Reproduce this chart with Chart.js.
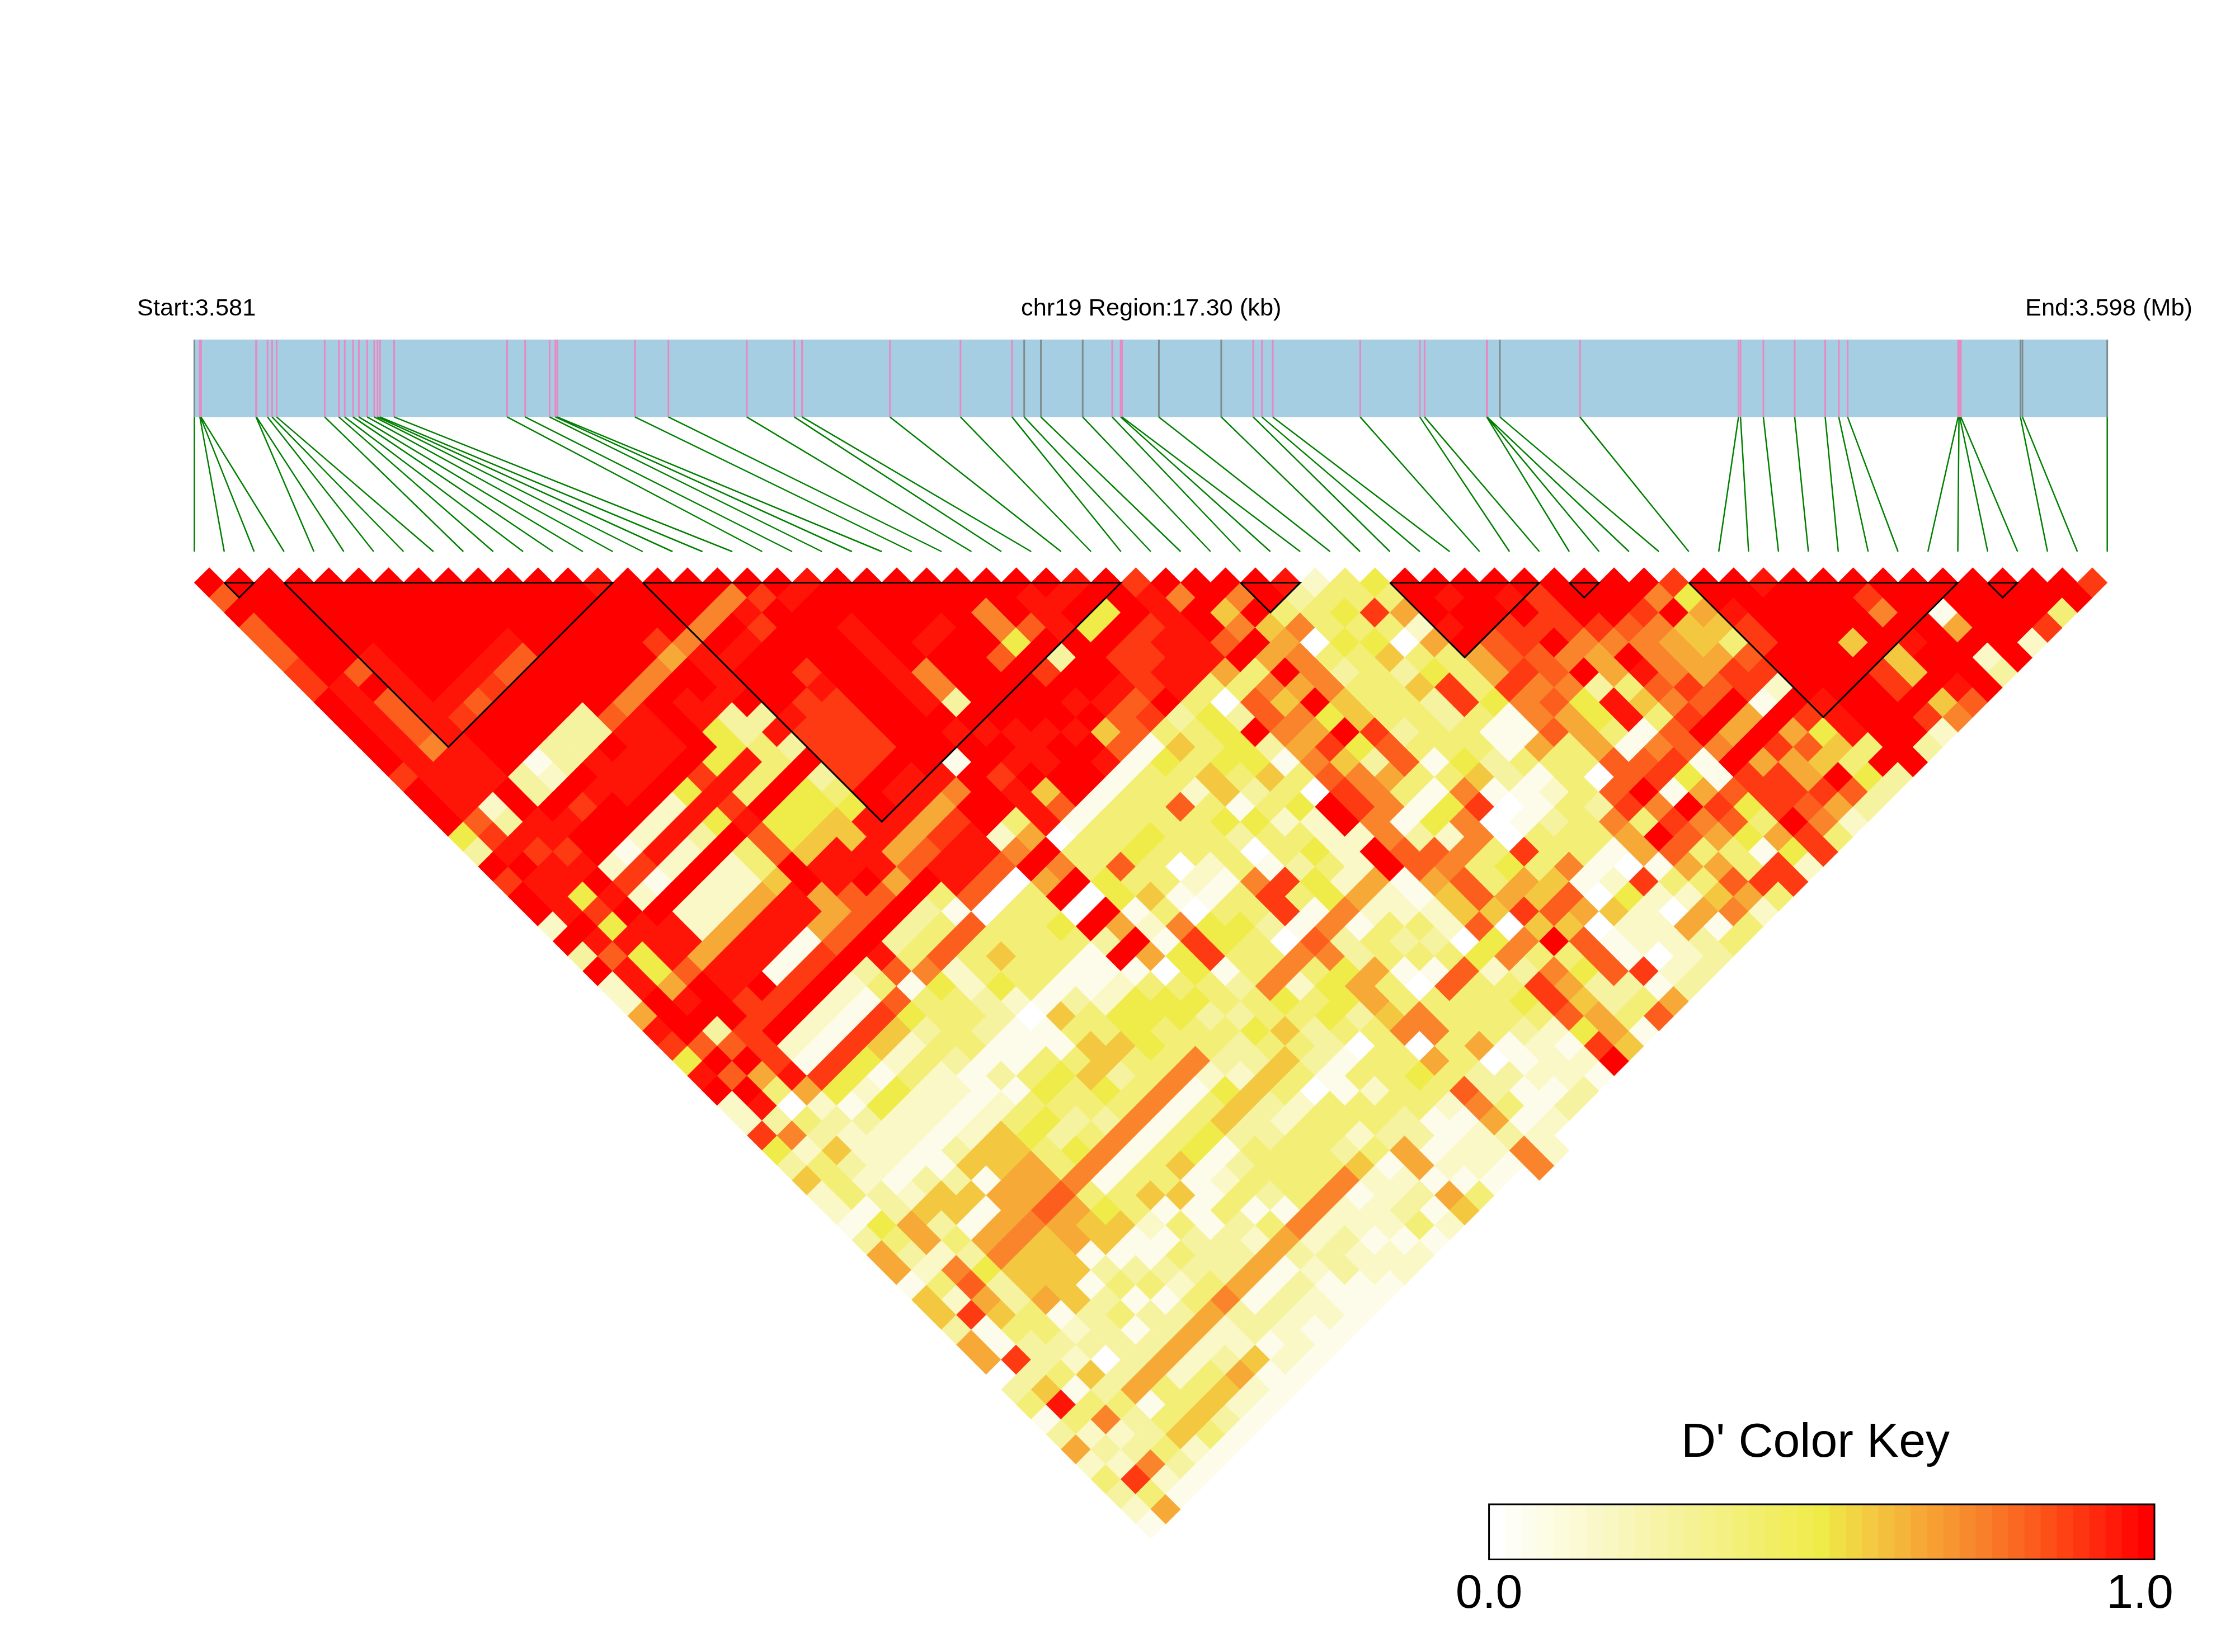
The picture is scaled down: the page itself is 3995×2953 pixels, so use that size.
<!DOCTYPE html>
<html lang="en">

<head>
    <meta charset="UTF-8">
    <title>LD heatmap chr19</title>
    <script src="https://cdn.jsdelivr.net/npm/chart.js@4/dist/chart.umd.min.js"></script>
    <style>
        html, body { margin: 0; padding: 0; background: #fff; }
        canvas { position: absolute; }
    </style>
</head>

<body>
    <canvas id="ldChart" width="3995" height="2953" style="left:0;top:0"></canvas>
    <canvas id="keyChart" width="1400" height="330" style="left:2550px;top:2600px"></canvas>

    <script>
        // SNP positions in kb from region start
        const snpPosKb = [0, .05, .055, .06, .558, .562, .662, .703, .744, 1.179, 1.307, 1.36, 1.435, 1.488, 1.563, 1.627,
            1.656, 1.679, 1.807, 2.829, 2.992, 3.213, 3.265, 3.282, 3.985, 4.287, 4.996, 5.426, 5.496, 6.291, 6.929, 7.395,
            7.505, 7.656, 8.034, 8.301, 8.377, 8.39, 8.723, 9.287, 9.576, 9.655, 9.753, 10.544, 11.083, 11.126, 11.688,
            11.69, 11.692, 11.807, 12.531, 13.965, 13.983, 14.19, 14.473, 14.749, 14.872, 14.952, 15.951, 15.959, 15.966,
            15.976, 16.515, 16.533, 17.3];
        const greySnps = [0, 32, 33, 34, 38, 39, 49, 62, 63, 64];
        const regionKb = 17.3;

        // haplotype blocks, first and last SNP
        const blockStart = [1, 3, 15, 35, 40, 46, 50, 60];
        const blockEnd = [2, 14, 31, 37, 45, 47, 59, 61];

        // D' by SNP: one string per SNP, one letter per following SNP
        const dPrimeLevels = { w: 0, v: .06, p: .16, q: .27, l: .38, y: .5, g: .58, h: .65, o: .74, n: .82, m: .89, r: .96, R: 1 };
        const dPrimeRows = [
            "RnRnnnmmRRRRRmRRRyqRmRRpRqRpphrmyrRppmyqgppvqhhvggqhhwqlvqhplqpv",
            "RRRRRRRrrrrrrrrrnmrRrrrRrnrrRRRnRnRrqoplllvylqplpmvvmqgrlpqpmlh",
            "RRRRRRnRnnnorrrpqrmrrymyryyhrRqnRhlwlqgqpqqhhponhglqqlvlopqopv",
            "RRRRRrrrrrrrrrRRrrmrRrRrrrnRRRmmmrhpqpppvpgqlqyqqllqpgqlqqlqv",
            "RRRRRRRRrmRRRqqRrRRpmpRrrhrrmmRpvmyvqppvqggvhogghvpqwqhvlgpv",
            "RRRRRRRrnRRRvpRmRRvmvRpphrrRmRpvmypyppvvqgvhoggggqqqqhllglv",
            "RRRRRRrmRRRqqRrRRprpRpphrrvmRpvmyvyppvqgvhhogggvqlvqhplgqv",
            "RRRRRrnRRRqqrrrRprpRpphrrvmRpvmgplppvpgghhnhhvqlvqqhplgpv",
            "RRRRrnRRRqqRrrRprqRpphrrvmRpvmgplppvpgghhnhggvqlvqhpqhpv",
            "RRRRRRRRRnrrrRyryRllgrrhnRqlnyqlqvvplyllolygvvqplhppgvv",
            "RRRRRRRRorrrRmrmrnnRRhhnRrnvllllvqvlyqyovllpvlqloqqvpv",
            "RRRRRRRoRRRRyrlRyygrrnnRqloyllqvvlylqlovlgvlqqqhvqppv",
            "RRRRRRoRrryyrlRyygrrRnRqlnppqqvvlyllqovllgvvqqhvqpvv",
            "rRRRmhRRrqqllRyyggrrhRqlnllypwvvlgylovlgvvlqphvqppv",
            "RRRRorrrRqrqRqlyrrhnRlvnlgllvglggqlovlyvplvlhqpvvv",
            "RRRoRrRRRrmmmmRRrhnrrnwllllvqllgllovlyvqlqvopqqvv",
            "RRoRrRRRmmmmmRrrhmrrnwllllvvpyyylovlgqllllopqppv",
            "RormRRmrmmmmRrrhmrrnwllylvvpyyllopygqqllloppvpp",
            "RmRRRRRRRRRRRroRRpoRhRwRqRvlyyllqpgqplllovppvp",
            "RrRRRRRRRRRRvRRRlhRoRwRhRhwlyqlqqglpllqgppqlv",
            "rRRrrrrrrRrRRmrrrwllyyvpvyyllqylglwllplvpqvp",
            "RRRRRRooqRrRrRgnvllnlglommvqllglqvvllqhhvhg",
            "RRRRrRRRRRrrrRRvllyllvwyylloylqqvlplqqvpvl",
            "RRRrRRRRRRrRRRvllylwpvlylloplylwllllvvppv",
            "RRRRRnRRRRrRrvlllllpvllqwolyyqlllylpvppv",
            "RRooyRmRrRgnvllnllllommvnoyhhgowhlnohqoo",
            "RRRnRqRRrnnvylplyqwvmlvoqqhlloollqqlvpp",
            "RrrrRRRrnmlglggvyllqyyovllvwlllhwqvvp",
            "RrRyRmmmRqllylqlplylphplqlvnlllvvpvq",
            "rRyRmmrrlyyyyglypppphpplqlnlllqpppq",
            "RRRmrrrlwqRqvlwRRpRRvvppwyplylpvpv",
            "mrrrrrhlnnohonmmoonnhggnyoqmmnymR",
            "RoRRnRlogohmgooovqnonngwolohghhg",
            "RRgoRhRhRyRyqhlvypollhmgRlyqqlv",
            "RoRghoooggmnnlvyoolyhgngnnnqln",
            "RRlowlqlllqlvlomwwmlgnhwvvmvh",
            "rqllylllllllygvwvllovwgppwpq",
            "plylygqgqqllqqvvqllvpyppppq",
            "llmlwlymmlvvlvplllvwmpwhqq",
            "ylhphlllyvvhlllqohhvlphvl",
            "RRRrRhhmoonllwnmlRnhlgol",
            "RrRRnnmonhhhnnRomnlhnhp",
            "RRRmmnnoyylvnmvRohllml",
            "RrRmRoRqrrvomyhmnyvmm",
            "Rmmmohhlglnnvvnylhyp",
            "RRRmoRrnomRoRmmmRmm",
            "RRRnooomnRhRhmmnol",
            "RRmohhhnRhRmhhmhp",
            "RoRgghmmvRhngRnq",
            "myhglnmpRmyglyq",
            "RRrmmRRRrrrlRq",
            "RRRRRRRRRRRRR",
            "rRRRRRRRRRRq",
            "RRRRgRmmRmp",
            "RRRRRggRgo",
            "RmoRrRRrn",
            "RRRRRRRR",
            "RRvhRpq",
            "RRRRRR",
            "RRRRp",
            "RRRm",
            "RRl",
            "RR",
            "m"
        ];

        const keySteps = 41;
        const keyTicks = [0, 1];

        // colour key stops
        const rampStops = [0, .25, .5, .58, .66, .75, .85, .92, 1];
        const rampColors = [[255, 255, 255], [247, 244, 168], [239, 235, 72], [243, 200, 64], [246, 165, 53], [249, 128, 43], [253, 80, 24], [255, 42, 14], [255, 0, 0]];

        function dColor(d) {
            let n = 1;
            while (n < rampStops.length - 1 && d > rampStops[n]) n++;
            const t = (d - rampStops[n - 1]) / (rampStops[n] - rampStops[n - 1]);
            const c = rampColors[n - 1].map((v, i) => Math.round(v + (rampColors[n][i] - v) * t));
            return `rgb(${c[0]},${c[1]},${c[2]})`;
        }

        // page layout of the plot, in pixels
        const leftPx = 347.4, stepPx = 53.426, firstRowPx = 1041.5, rowPx = 26.71;
        const pxToLag = (y) => 1 + (y - firstRowPx) / rowPx;
        const bandTop = pxToLag(607), bandBottom = pxToLag(745.4), linkBottom = pxToLag(986);
        const kbToSnp = (kb) => kb / regionKb * (snpPosKb.length - 1);

        const cells = [];
        dPrimeRows.forEach((row, i) => {
            [...row].forEach((ch, n) => {
                const lag = n + 1;
                cells.push({ x: i + lag / 2, y: lag, d: dPrimeLevels[ch] });
            });
        });

        const tickLine = (list) => list.flatMap((i) => [
            { x: kbToSnp(snpPosKb[i]), y: bandTop }, { x: kbToSnp(snpPosKb[i]), y: bandBottom }, { x: 0, y: null }
        ]);
        const allSnps = snpPosKb.map((p, i) => i);
        const pinkSnps = allSnps.filter((i) => !greySnps.includes(i));

        const linkLines = allSnps.flatMap((i) => [
            { x: kbToSnp(snpPosKb[i]), y: bandBottom }, { x: i, y: linkBottom }, { x: 0, y: null }
        ]);
        const blockLines = blockStart.flatMap((a, n) => {
            const b = blockEnd[n];
            return [{ x: a, y: 1 }, { x: b, y: 1 }, { x: (a + b) / 2, y: 1 + b - a }, { x: a, y: 1 }, { x: 0, y: null }];
        });

        const lineSet = (data, color, width, order) => ({
            type: 'line', data, borderColor: color, borderWidth: width, pointRadius: 0, spanGaps: false, order, borderJoinStyle: 'miter'
        });

        const pageLabels = [
            { text: 'Start:3.581', x: 245, y: 564, size: 43.4 },
            { text: 'chr19 Region:17.30 (kb)', x: 1825, y: 564, size: 43.4 },
            { text: 'End:3.598 (Mb)', x: 3620, y: 564, size: 43.4 },
            { text: "D' Color Key", x: 3005, y: 2604, size: 86 }
        ];
        const labelPlugin = {
            id: 'pageLabels',
            afterDraw(chart) {
                const ctx = chart.ctx;
                ctx.save();
                ctx.fillStyle = '#000';
                ctx.textBaseline = 'alphabetic';
                ctx.textAlign = 'left';
                pageLabels.forEach((l) => {
                    ctx.font = `${l.size}px "Liberation Sans"`;
                    ctx.fillText(l.text, l.x, l.y);
                });
                ctx.restore();
            }
        };

        new Chart(document.getElementById('ldChart'), {
            type: 'scatter',
            data: {
                datasets: [
                    lineSet(blockLines, '#000', 3, 0),
                    {
                        data: cells, order: 1, pointStyle: 'rectRot', pointRadius: 27.3, pointBorderWidth: 0,
                        pointBackgroundColor: cells.map((c) => dColor(c.d))
                    },
                    lineSet(linkLines, '#008000', 2.5, 2),
                    lineSet(tickLine(greySnps), '#7f8c8d', 3, 3),
                    lineSet(tickLine(pinkSnps), '#e78ac3', 3, 4),
                    {
                        type: 'line', order: 5, data: [{ x: 0, y: bandTop }, { x: snpPosKb.length - 1, y: bandTop }],
                        fill: { value: bandBottom }, backgroundColor: '#a6cee3', borderWidth: 0, pointRadius: 0
                    }
                ]
            },
            options: {
                responsive: false,
                animation: false,
                events: [],
                layout: { padding: 0, autoPadding: false },
                plugins: { legend: { display: false }, tooltip: { enabled: false }, title: { display: false } },
                scales: {
                    x: { type: 'linear', display: false, min: -leftPx / stepPx, max: (3995 - leftPx) / stepPx },
                    y: { type: 'linear', display: false, reverse: true, min: pxToLag(0), max: pxToLag(2953) }
                }
            },
            plugins: [labelPlugin]
        });

        const keyValues = Array.from({ length: keySteps }, (v, i) => i / (keySteps - 1));

        const boxPlugin = {
            id: 'keyBox',
            afterDraw(chart) {
                const a = chart.chartArea, ctx = chart.ctx;
                ctx.save();
                ctx.strokeStyle = '#000';
                ctx.lineWidth = 3;
                ctx.strokeRect(a.left, a.top, a.right - a.left, a.bottom - a.top);
                ctx.restore();
            }
        };

        new Chart(document.getElementById('keyChart'), {
            type: 'bar',
            data: {
                labels: keyValues.map((v) => v.toFixed(3)),
                datasets: [{
                    data: keyValues.map(() => 1), backgroundColor: keyValues.map(dColor),
                    barPercentage: 1, categoryPercentage: 1, borderWidth: 0
                }]
            },
            options: {
                responsive: false,
                animation: false,
                events: [],
                layout: { padding: { left: 111.6, right: 99, top: 89, bottom: 44 }, autoPadding: false },
                plugins: { legend: { display: false }, tooltip: { enabled: false } },
                scales: {
                    x: { display: false },
                    y: { display: false, min: 0, max: 1 },
                    labelAxis: {
                        type: 'linear', position: 'bottom', min: 0, max: 1.0223, offset: false,
                        grid: { display: false }, border: { display: false },
                        afterBuildTicks(axis) { axis.ticks = keyTicks.map((v) => ({ value: v })); },
                        ticks: {
                            autoSkip: false, maxRotation: 0, padding: 3, color: '#000',
                            font: { family: 'Liberation Sans', size: 86 },
                            callback: (v) => v.toFixed(1)
                        }
                    }
                }
            },
            plugins: [boxPlugin]
        });
    </script>
</body>

</html>
